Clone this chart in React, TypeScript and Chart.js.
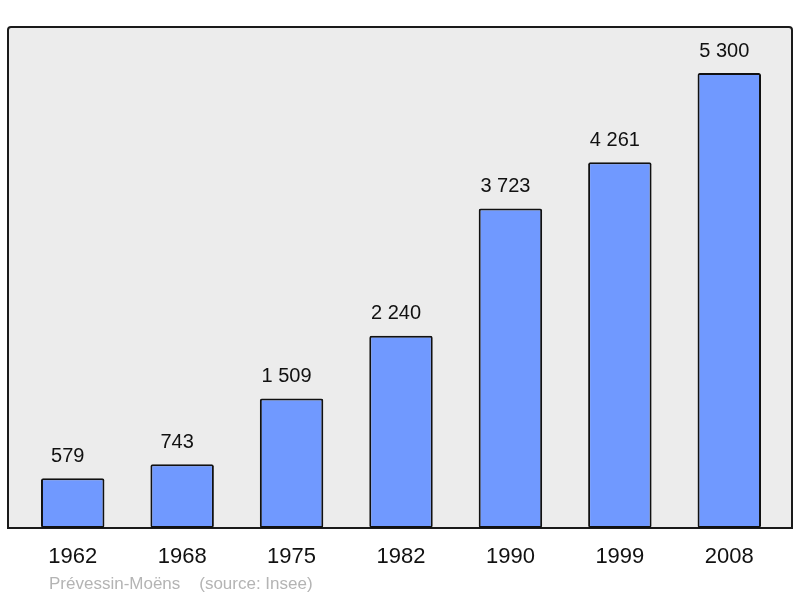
import React, { useEffect, useRef } from "react";
import { Chart, registerables } from "chart.js";

Chart.register(...registerables);

const years = ["1962", "1968", "1975", "1982", "1990", "1999", "2008"];
const population = [579, 743, 1509, 2240, 3723, 4261, 5300];
const valueLabels = ["579", "743", "1 509", "2 240", "3 723", "4 261", "5 300"];
const footer = "Prévessin-Moëns    (source: Insee)";

const FONT = "'Liberation Sans', Arial, sans-serif";

const panelPlugin = {
  id: "panel",
  beforeDraw(chart: any) {
    const { ctx, chartArea } = chart;
    const x0 = chartArea.left - 10;
    const x1 = chartArea.right + 8;
    const y0 = chartArea.top;
    const y1 = chartArea.bottom;
    ctx.save();
    ctx.beginPath();
    const r = 3;
    ctx.moveTo(x0 + r, y0);
    ctx.lineTo(x1 - r, y0);
    ctx.quadraticCurveTo(x1, y0, x1, y0 + r);
    ctx.lineTo(x1, y1);
    ctx.lineTo(x0, y1);
    ctx.lineTo(x0, y0 + r);
    ctx.quadraticCurveTo(x0, y0, x0 + r, y0);
    ctx.closePath();
    ctx.fillStyle = "#ececec";
    ctx.fill();
    ctx.lineWidth = 2;
    ctx.strokeStyle = "#1a1a1a";
    ctx.stroke();
    ctx.restore();
  },
  afterDraw(chart: any) {
    const { ctx } = chart;
    const meta = chart.getDatasetMeta(0);
    ctx.save();
    ctx.fillStyle = "#111";
    ctx.font = `20px ${FONT}`;
    ctx.textAlign = "center";
    ctx.textBaseline = "middle";
    meta.data.forEach((bar: any, i: number) => {
      ctx.fillText(valueLabels[i], bar.x - 5, bar.y - 22);
    });
    ctx.fillStyle = "#b4b4b4";
    ctx.font = `17px ${FONT}`;
    ctx.textAlign = "left";
    ctx.fillText(footer, 49, 584);
    ctx.restore();
  },
};

export default function App() {
  const ref = useRef<HTMLCanvasElement>(null);
  useEffect(() => {
    if (!ref.current) return;
    const chart = new Chart(ref.current, {
      type: "bar",
      data: {
        labels: years,
        datasets: [
          {
            data: population,
            backgroundColor: "#7099ff",
            borderColor: "#111",
            borderWidth: 2,
            borderRadius: 2,
            borderSkipped: false,
            barPercentage: 0.58,
            categoryPercentage: 1,
          },
        ],
      },
      options: {
        animation: false,
        responsive: false,
        maintainAspectRatio: false,
        layout: { padding: { left: 18, right: 16, top: 27, bottom: 0 } },
        plugins: { legend: { display: false }, tooltip: { enabled: false } },
        scales: {
          x: {
            grid: { display: false, drawTicks: false },
            border: { display: false },
            ticks: { color: "#111", font: { family: FONT, size: 22 }, padding: 16 },
            afterFit(axis: any) {
              axis.height = 70;
            },
          },
          y: { display: false, min: 0, max: 5836 },
        },
      },
      plugins: [panelPlugin],
    });
    return () => chart.destroy();
  }, []);
  return (
    <div style={{ position: "fixed", left: 0, top: 0, width: 800, height: 598, background: "#fff" }}>
      <canvas ref={ref} width={800} height={598} style={{ display: "block" }} />
    </div>
  );
}
